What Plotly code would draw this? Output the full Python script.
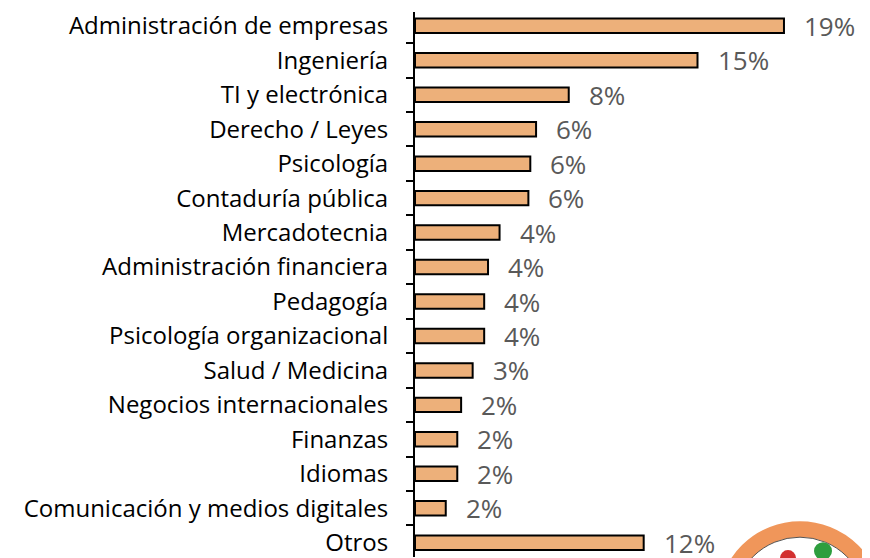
import plotly.graph_objects as go

categories = [
    "Administración de empresas", "Ingeniería", "TI y electrónica", "Derecho / Leyes",
    "Psicología", "Contaduría pública", "Mercadotecnia", "Administración financiera",
    "Pedagogía", "Psicología organizacional", "Salud / Medicina", "Negocios internacionales",
    "Finanzas", "Idiomas", "Comunicación y medios digitales", "Otros",
]
values = [19.2, 14.7, 8.0, 6.3, 6.0, 5.9, 4.4, 3.8, 3.6, 3.6, 3.0, 2.4, 2.2, 2.2, 1.6, 11.9]
labels = [f"{round(v)}%" for v in values]

FONT = "Open Sans"

# page is rendered with an 8px body margin: figure coords = page coords - 8
W, H = 862, 550
L, R, T, B = 407, 849, 0, 550

fig = go.Figure(go.Bar(
    x=values, y=categories, orientation="h",
    marker=dict(color="#EDB07A", line=dict(color="#000000", width=2)),
    width=0.42, hoverinfo="skip",
))

for c, v, t in zip(categories, values, labels):
    fig.add_annotation(x=v, y=c, text=t, showarrow=False, xanchor="left",
                       xshift=18, yshift=0,
                       font=dict(family=FONT, size=26, color="#595959"))

# logo fragment (decorative)
def px(x): return (x - L) / (R - L)
def py(y): return (B - y) / (B - T)
cx, cy = 792, 596
fig.add_shape(type="circle", xref="paper", yref="paper",
              x0=px(cx - 74), x1=px(cx + 74), y0=py(cy + 74), y1=py(cy - 74),
              line=dict(color="#F0965A", width=16), fillcolor="white", layer="above")
fig.add_shape(type="circle", xref="paper", yref="paper",
              x0=px(cx - 66), x1=px(cx + 66), y0=py(cy + 66), y1=py(cy - 66),
              line=dict(color="#555555", width=1), fillcolor="rgba(0,0,0,0)", layer="above")
fig.add_shape(type="circle", xref="paper", yref="paper",
              x0=px(772), x1=px(788), y0=py(559), y1=py(543),
              line=dict(width=0), fillcolor="#D32F2F", layer="above")
fig.add_shape(type="circle", xref="paper", yref="paper",
              x0=px(806), x1=px(824), y0=py(553), y1=py(535),
              line=dict(width=0), fillcolor="#2E9E3E", layer="above")

fig.update_layout(
    width=W, height=H,
    margin=dict(l=L, r=W - R, t=T, b=H - B),
    paper_bgcolor="white", plot_bgcolor="white",
    showlegend=False,
    font=dict(family=FONT, size=24, color="#000000"),
    xaxis=dict(range=[0, 23], visible=False, fixedrange=True),
    yaxis=dict(range=[15.415, -0.402], showline=True, linecolor="#000000", linewidth=2,
               ticks="outside", tickson="boundaries", ticklen=7, tickwidth=2,
               tickcolor="#000000", ticklabelstandoff=20,
               tickfont=dict(family=FONT, size=24, color="#000000"),
               showgrid=False, zeroline=False, fixedrange=True),
)

fig.write_html("out.html")
